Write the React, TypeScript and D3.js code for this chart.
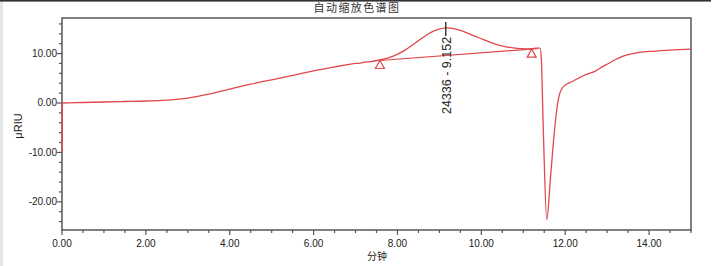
import React from "react";
import * as d3 from "d3";

const W = 715;
const H = 266;

const title = "自动缩放色谱图";
const xLabel = "分钟";
const yLabel = "μRIU";
const peakLabel = "24336 - 9.152";

const times = [
  0, 0.01, 0.5, 1.0, 1.5, 2.0, 2.5, 3.0, 3.5, 4.0, 4.5, 5.0, 5.5, 6.0, 6.5, 7.0, 7.3, 7.58,
  7.9, 8.18, 8.4, 8.58, 8.8, 8.97, 9.17, 9.37, 9.57, 9.77, 9.97, 10.17, 10.37, 10.56, 10.76,
  10.96, 11.1, 11.2, 11.32, 11.4, 11.43, 11.48, 11.56, 11.65, 11.74, 11.82, 11.88, 11.96,
  12.16, 12.31, 12.5, 12.71, 12.9, 13.03, 13.2, 13.35, 13.55, 13.74, 14.14, 14.5, 15.0,
];
const signal = [
  -10.1, 0, 0.1, 0.2, 0.3, 0.4, 0.6, 1.0, 1.8, 2.8, 3.8, 4.7, 5.6, 6.5, 7.3, 8.0, 8.3, 8.7,
  9.5, 10.7, 12.0, 13.1, 14.3, 14.9, 15.2, 15.0, 14.5, 13.8, 13.1, 12.4, 11.8, 11.4, 11.15,
  11.0, 10.95, 11.0, 11.1, 11.1, 9.0, -6.0, -23.6, -15.0, -6.0, 0.0, 2.2, 3.3,
  4.3, 5.0, 5.8, 6.4, 7.4, 8.0, 8.8, 9.4, 9.9, 10.2, 10.5, 10.7, 10.9,
];

const baselineTimes = [7.58, 11.33];
const baselineValues = [8.6, 11.0];
const markerTimes = [7.58, 11.2];
const markerValues = [8.6, 10.9];
const apexTime = 9.152;
const apexValue = 15.2;

const xTickLabels = ["0.00", "2.00", "4.00", "6.00", "8.00", "10.00", "12.00", "14.00"];
const xTickValues = [0, 2, 4, 6, 8, 10, 12, 14];
const yTickLabels = ["-20.00", "-10.00", "0.00", "10.00"];
const yTickValues = [-20, -10, 0, 10];

const left = 62, right = 691, top = 18, bottom = 230;
const red = "#e0474c";
const axisCol = "#555";
const textCol = "#222";

export default function App() {
  const x = d3.scaleLinear().domain([0, 15]).range([left, right]);
  const y = d3.scaleLinear().domain([-25.7, 17.2]).range([bottom, top]);

  const pts = times.map((t, i) => [t, signal[i]] as [number, number]);
  const line = d3
    .line<[number, number]>()
    .x((d) => x(d[0]))
    .y((d) => y(d[1]))
    .curve(d3.curveMonotoneX);

  const basePts = baselineTimes.map((t, i) => [t, baselineValues[i]] as [number, number]);
  const baseLine = d3.line<[number, number]>().x((d) => x(d[0])).y((d) => y(d[1]));

  const xMinor = d3.range(0, 15.001, 0.5);
  const yMinor = d3.range(-24, 17, 2);

  const font = "'Liberation Sans', Arial, sans-serif";

  return (
    <svg
      width={W}
      height={H}
      style={{ position: "absolute", left: 0, top: 0, background: "#fff" }}
    >
      <rect x={0} y={0} width={3} height={H} fill="#e6e6e6" />
      <rect x={0} y={0} width={711} height={1.6} fill="#333" />
      <text
        x={357}
        y={11.5}
        textAnchor="middle"
        fontSize={11}
        letterSpacing={1.4}
        fill="#333"
        fontFamily="'Noto Sans CJK SC', sans-serif"
      >
        {title}
      </text>

      {/* frame */}
      <rect
        x={left}
        y={top}
        width={right - left}
        height={bottom - top}
        fill="none"
        stroke={axisCol}
        strokeWidth={1.5}
      />

      {/* x ticks */}
      {xMinor.map((t) => {
        const major = Math.abs(t / 2 - Math.round(t / 2)) < 1e-6;
        return (
          <line
            key={"xm" + t}
            x1={x(t)}
            x2={x(t)}
            y1={bottom}
            y2={bottom + (major ? 5 : 3)}
            stroke={axisCol}
            strokeWidth={1.2}
          />
        );
      })}
      {xTickValues.map((t, i) => (
        <text
          key={"xl" + t}
          x={x(t)}
          y={247}
          textAnchor="middle"
          fontSize={10}
          fill={textCol}
          fontFamily={font}
        >
          {xTickLabels[i]}
        </text>
      ))}

      {/* y ticks */}
      {yMinor.map((v) => {
        const major = v % 10 === 0;
        return (
          <line
            key={"ym" + v}
            x1={left - (major ? 5 : 3)}
            x2={left}
            y1={y(v)}
            y2={y(v)}
            stroke={axisCol}
            strokeWidth={1.2}
          />
        );
      })}
      {yTickValues.map((v, i) => (
        <text
          key={"yl" + v}
          x={57}
          y={y(v) + 3.5}
          textAnchor="end"
          fontSize={10}
          fill={textCol}
          fontFamily={font}
        >
          {yTickLabels[i]}
        </text>
      ))}

      <text
        transform={`translate(22,126) rotate(-90)`}
        textAnchor="middle"
        fontSize={11}
        fill={textCol}
        fontFamily={font}
      >
        {yLabel}
      </text>
      <text
        x={377}
        y={260}
        textAnchor="middle"
        fontSize={10}
        fill={textCol}
        fontFamily="'Noto Sans CJK SC', sans-serif"
      >
        {xLabel}
      </text>

      {/* signal */}
      <path d={line(pts) ?? ""} fill="none" stroke={red} strokeWidth={1.3} />
      <path d={baseLine(basePts) ?? ""} fill="none" stroke={red} strokeWidth={1.2} />

      {markerTimes.map((t, i) => {
        const cx = x(t);
        const cy = y(markerValues[i]);
        return (
          <path
            key={"mk" + i}
            d={`M${cx},${cy} L${cx + 4.5},${cy + 8} L${cx - 4.5},${cy + 8} Z`}
            fill="none"
            stroke={red}
            strokeWidth={1.2}
          />
        );
      })}

      {/* apex annotation */}
      <line
        x1={x(apexTime)}
        x2={x(apexTime)}
        y1={y(apexValue) - 6}
        y2={y(apexValue) + 8}
        stroke="#111"
        strokeWidth={1.2}
      />
      <text
        transform={`translate(${x(apexTime) + 5.5},${y(apexValue) + 9}) rotate(-90)`}
        textAnchor="end"
        fontSize={12.5}
        fill={textCol}
        fontFamily={font}
      >
        {peakLabel}
      </text>
    </svg>
  );
}
